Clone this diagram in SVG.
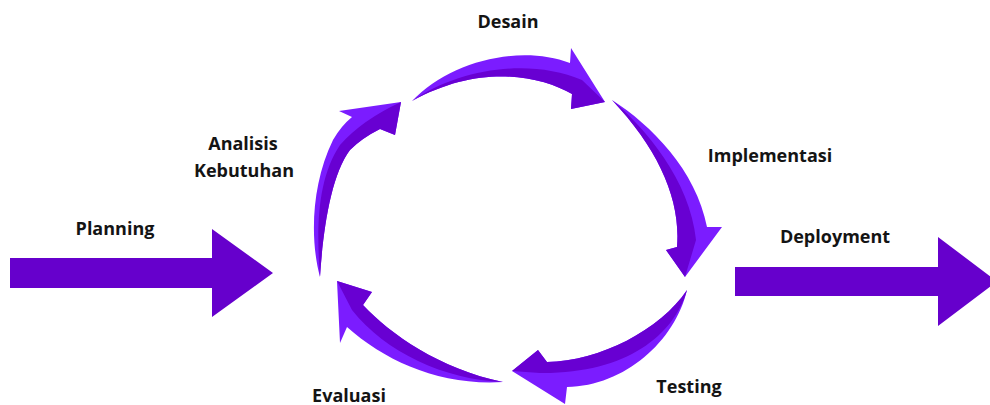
<svg xmlns="http://www.w3.org/2000/svg" width="990" height="405" viewBox="0 0 990 405">
<style>
.lt{fill:#7B1CFF}
.dk{fill:#6800D2}
.st{fill:#6600CC}
text{font-family:"Open Sans","Noto Sans","Liberation Sans",sans-serif;font-weight:700;font-size:18px;fill:#141414;text-anchor:middle}
</style>
<rect width="990" height="405" fill="#ffffff"/>
<g id="connectors">
<g id="arrow-planning"><path class="st" d="M10,258 L212,258 L212,229 L273,273 L212,317 L212,288 L10,288 Z"/></g>
<g id="arrow-deployment"><path class="st" d="M735,267 L938,267 L938,237 L997,281.5 L938,326 L938,296 L735,296 Z"/></g>
<g id="arc-analisis-desain">
<path class="lt" d="M320,277 C310,240 311,185 333,140 Q341,126 352,117 L339,111 L401,102 L395,135 L380,129 Q362,138 350,150 C331,175 323,230 320,277 Z"/>
<path class="dk" d="M320,277 C316,225 318,178 340,145 Q362,120 401,102 L395,135 L380,129 Q362,138 350,150 C331,175 323,230 320,277 Z"/>
</g>
<g id="arc-desain-implementasi">
<path class="lt" d="M412,101 C450,61 520,44 570,63 L571,48 L605,102 L571,109 L572,94 C540,76 480,63 412,101 Z"/>
<path class="dk" d="M412,101 C460,68 530,58 582,80 L605,102 L571,109 L572,94 C540,76 480,63 412,101 Z"/>
</g>
<g id="arc-implementasi-testing">
<path class="lt" d="M612,100 C651,125 696,170 707,227 L722,227 L685,277 L666,250 L677,247 C681,200 659,150 612,100 Z"/>
<path class="dk" d="M612,100 C645,128 690,180 696,240 L685,277 L666,250 L677,247 C681,200 659,150 612,100 Z"/>
</g>
<g id="arc-testing-evaluasi">
<path class="lt" d="M687,290 C675,341 625,386 567,387 L565,404 L512,371 L538,350 L547,362 C600,361 660,330 687,290 Z"/>
<path class="dk" d="M687,290 C674,336 625,374 540,373 L512,371 L538,350 L547,362 C600,361 660,330 687,290 Z"/>
</g>
<g id="arc-evaluasi-analisis">
<path class="lt" d="M503,382 C440,386 385,361 347,327 L340,343 L337,281 L372,292 L363,305 C390,334 440,369 503,382 Z"/>
<path class="dk" d="M503,382 C445,380 385,352 352,310 L337,281 L372,292 L363,305 C390,334 440,369 503,382 Z"/>
</g>
</g>
<g id="node-desain"><text x="508" y="28">Desain</text></g>
<g id="node-analisis"><text x="243" y="150">Analisis</text><text x="244" y="177">Kebutuhan</text></g>
<g id="node-implementasi"><text x="770" y="162">Implementasi</text></g>
<g id="node-testing"><text x="689" y="393">Testing</text></g>
<g id="node-evaluasi"><text x="349" y="402">Evaluasi</text></g>
<g id="node-planning"><text x="115" y="235">Planning</text></g>
<g id="node-deployment"><text x="835" y="243">Deployment</text></g>
</svg>
